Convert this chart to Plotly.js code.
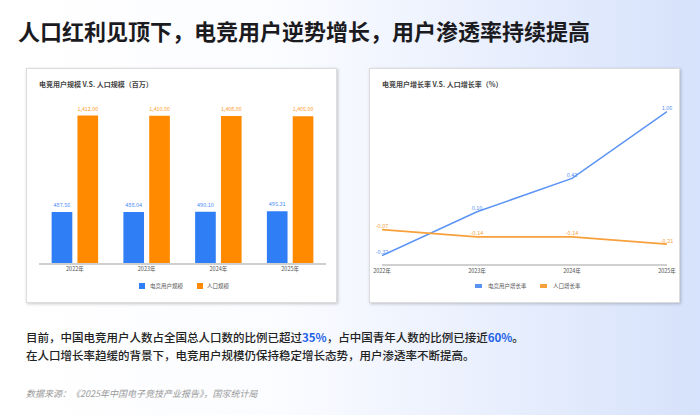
<!DOCTYPE html>
<html>
<head>
<meta charset="utf-8">
<script src="https://cdn.plot.ly/plotly-3.0.1.min.js"></script>
<style>
  html, body { margin:0; padding:0; }
  body {
    width:700px; height:415px; overflow:hidden; position:relative;
    background: linear-gradient(90deg, #ffffff 0%, #fbfcff 40%, #e6edfd 75%, #d6e2fb 100%);
    font-family: "Noto Sans CJK SC", "Noto Sans", sans-serif;
  }
  #title {
    position:absolute; left:18px; top:15px; font-size:22px; font-weight:700; color:#1b1b1f;
    line-height:30px; white-space:nowrap;
  }
  .card {
    position:absolute; top:68px; width:311px; height:235px; background:#fff;
    border:1px solid #dcdcdc; box-shadow:1px 1px 3px rgba(0,0,0,0.22); box-sizing:border-box;
  }
  #card1 { left:26px; }
  #card2 { left:369px; }
  .chart { position:absolute; left:-1px; top:-1px; width:311px; height:235px; }
  .para {
    position:absolute; left:26px; font-size:11.5px; color:#222; font-weight:500; white-space:nowrap; line-height:18px;
  }
  .para b { color:#1f62e6; font-weight:700; }
  #p1 { top:328px; }
  #p2 { top:346px; }
  #src { position:absolute; left:26px; top:387px; font-size:9px; color:#9a9a9a; font-style:italic; white-space:nowrap; }
  .lg { position:absolute; top:213px; height:8px; font-size:5.5px; color:#555; line-height:8px; white-space:nowrap; }
  .sw { position:absolute; top:0; }
  .lt { position:absolute; top:0; }
</style>
</head>
<body>
<div id="title">人口红利见顶下，电竞用户逆势增长，用户渗透率持续提高</div>
<div class="card" id="card1"><div class="chart" id="chart1"></div><div class="lg" id="lg1"></div></div>
<div class="card" id="card2"><div class="chart" id="chart2"></div><div class="lg" id="lg2"></div></div>
<div class="para" id="p1">目前，中国电竞用户人数占全国总人口数的比例已超过<b>35%</b>，占中国青年人数的比例已接近<b>60%</b>。</div>
<div class="para" id="p2">在人口增长率趋缓的背景下，电竞用户规模仍保持稳定增长态势，用户渗透率不断提高。</div>
<div id="src">数据来源：《2025年中国电子竞技产业报告》，国家统计局</div>
<script>
const years = ['2022年', '2023年', '2024年', '2025年'];
const esportsUsers = [487.56, 488.04, 490.10, 495.31];
const population = [1412.00, 1410.00, 1408.00, 1405.00];
const userGrowth = [-0.32, 0.10, 0.42, 1.06];
const popGrowth = [-0.07, -0.14, -0.14, -0.21];
const seriesNames1 = ['电竞用户规模', '人口规模'];
const seriesNames2 = ['电竞用户增长率', '人口增长率'];

const FONT = '"Noto Sans CJK SC", "Noto Sans", sans-serif';
const BLUE = '#2f7ef6', ORANGE = '#ff8a00';
const LBLUE = '#5b93f5', LORANGE = '#f7a03c';

const fmt2 = v => v.toLocaleString('en-US', {minimumFractionDigits:2, maximumFractionDigits:2});

const trace1 = {
  type:'bar', x:years, y:esportsUsers, name:seriesNames1[0],
  marker:{color:BLUE}, text:esportsUsers.map(fmt2), textposition:'outside',
  textfont:{size:5.5, color:'#4a8cf7', family:FONT}, cliponaxis:false
};
const trace2 = {
  type:'bar', x:years, y:population, name:seriesNames1[1],
  marker:{color:ORANGE}, text:population.map(fmt2), textposition:'outside',
  textfont:{size:5.5, color:'#ff9a25', family:FONT}, cliponaxis:false
};
const layout1 = {
  width:311, height:235, margin:{l:13, r:11, t:28, b:40},
  paper_bgcolor:'rgba(0,0,0,0)', plot_bgcolor:'rgba(0,0,0,0)',
  font:{family:FONT, size:5.5, color:'#555'},
  title:{text:'电竞用户规模 V.S. 人口规模（百万）', x:13/311, xanchor:'left', y:1-17/235, yanchor:'middle',
         font:{size:7, color:'#444', family:FONT, weight:700}},
  barmode:'group', bargap:0.28, bargroupgap:0.2,
  xaxis:{type:'category', showline:true, linecolor:'#cfcfcf', linewidth:1.5, ticks:'', ticklen:3,
         tickfont:{size:5.5, color:'#555'}, showgrid:false},
  yaxis:{range:[0,1600], visible:false, showgrid:false, zeroline:false},
  showlegend:false
};
Plotly.newPlot('chart1', [trace1, trace2], layout1, {displayModeBar:false, staticPlot:true});

const trace3 = {
  type:'scatter', mode:'lines+text', x:years, y:userGrowth, name:seriesNames2[0],
  line:{color:LBLUE, width:1.5}, text:userGrowth.map(v=>v.toFixed(2)), textposition:'top center',
  textfont:{size:5.5, color:'#5b93f5', family:FONT}, cliponaxis:false
};
const trace4 = {
  type:'scatter', mode:'lines+text', x:years, y:popGrowth, name:seriesNames2[1],
  line:{color:LORANGE, width:1.8}, text:popGrowth.map(v=>v.toFixed(2)), textposition:'top center',
  textfont:{size:5.5, color:'#f5a043', family:FONT}, cliponaxis:false
};
const layout2 = {
  width:311, height:235, margin:{l:13, r:13, t:29, b:39},
  paper_bgcolor:'rgba(0,0,0,0)', plot_bgcolor:'rgba(0,0,0,0)',
  font:{family:FONT, size:5.5, color:'#555'},
  title:{text:'电竞用户增长率 V.S. 人口增长率（%）', x:13/311, xanchor:'left', y:1-17/235, yanchor:'middle',
         font:{size:7, color:'#444', family:FONT, weight:700}},
  xaxis:{type:'category', range:[0,3], showline:true, linecolor:'#d0d0d0', linewidth:2, ticks:'',
         tickfont:{size:5.5, color:'#555'}, showgrid:false},
  yaxis:{range:[-0.4,1.2], visible:false, showgrid:false, zeroline:false},
  showlegend:false
};
Plotly.newPlot('chart2', [trace3, trace4], layout2, {displayModeBar:false, staticPlot:true});

// Legends (HTML, built from series names and colours)
function buildLegend(id, names, colors, swW, swH, items) {
  const el = document.getElementById(id);
  names.forEach((n, i) => {
    const sw = document.createElement('div');
    sw.className = 'sw';
    sw.style.left = items[i][0] + 'px';
    sw.style.width = swW + 'px'; sw.style.height = swH + 'px';
    sw.style.top = ((8 - swH) / 2) + 'px';
    sw.style.background = colors[i];
    el.appendChild(sw);
    const t = document.createElement('div');
    t.className = 'lt';
    t.style.left = items[i][1] + 'px';
    t.textContent = n;
    el.appendChild(t);
  });
}
// positions relative to card (card left 26 / 369, top 68)
buildLegend('lg1', seriesNames1, [BLUE, ORANGE], 6, 6, [[112, 123], [170, 180]]);
buildLegend('lg2', seriesNames2, [LBLUE, LORANGE], 7, 4, [[105, 118], [170, 183]]);
</script>
</body>
</html>
